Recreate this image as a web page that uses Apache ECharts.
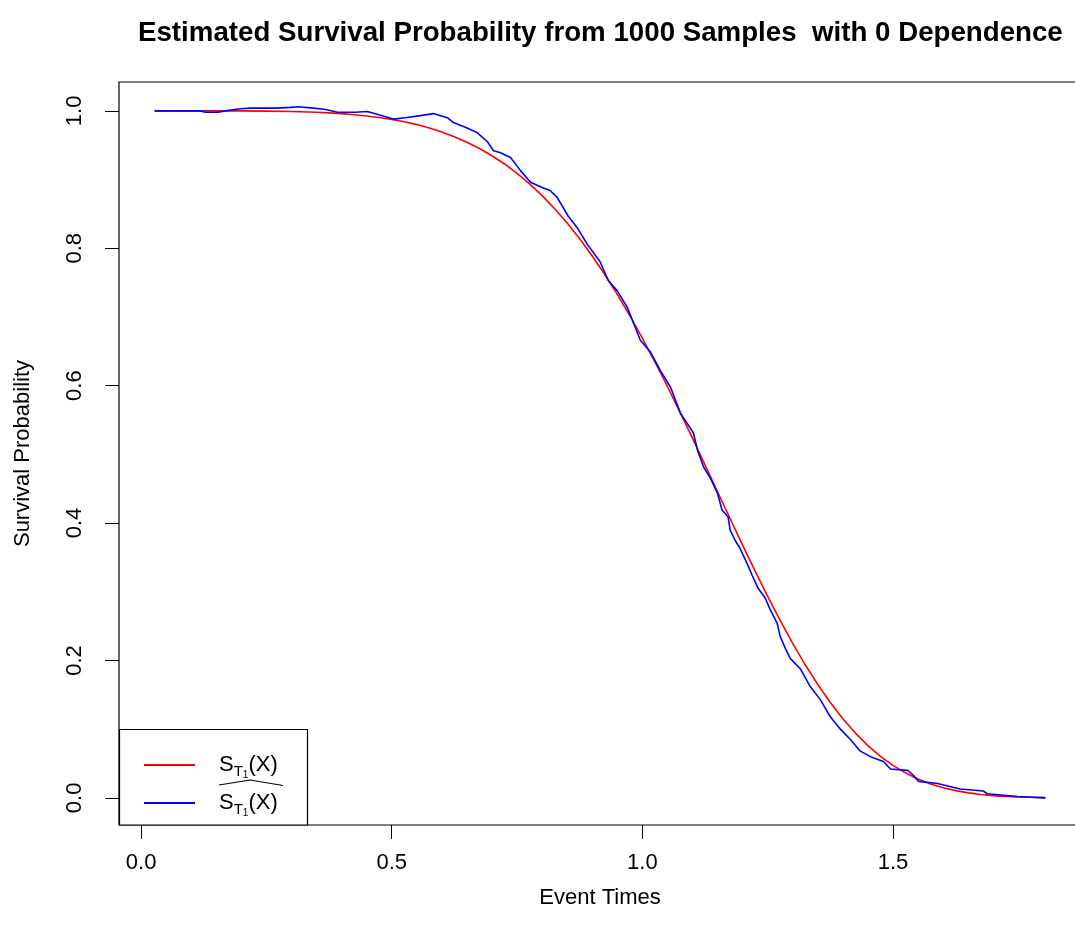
<!DOCTYPE html>
<html><head><meta charset="utf-8">
<script src="https://cdn.jsdelivr.net/npm/echarts@6/dist/echarts.min.js"></script>
<style>html,body{margin:0;padding:0;background:#fff;overflow:hidden}#c{width:1075px;height:935px}</style>
</head><body><div id="c"></div>
<script>
// True survival curve S_T1(X) (red)
const trueTimes = [0.027,0.1,0.15,0.2,0.25,0.3,0.35,0.375,0.4,0.425,0.45,0.475,0.5,0.525,0.55,0.575,0.6,0.625,0.65,0.675,0.7,0.725,0.75,0.775,0.8,0.825,0.85,0.875,0.9,0.925,0.95,0.975,1.0,1.025,1.05,1.075,1.1,1.125,1.15,1.175,1.2,1.225,1.25,1.275,1.3,1.325,1.35,1.375,1.4,1.425,1.45,1.475,1.5,1.525,1.55,1.575,1.6,1.625,1.65,1.675,1.7,1.725,1.75,1.775,1.804];
const trueSurv  = [1.0000,1.0000,1.0000,0.9999,0.9996,0.9990,0.9979,0.9970,0.9959,0.9944,0.9926,0.9903,0.9875,0.9841,0.9800,0.9751,0.9692,0.9624,0.9544,0.9452,0.9347,0.9227,0.9090,0.8937,0.8766,0.8576,0.8367,0.8137,0.7888,0.7618,0.7328,0.7018,0.6691,0.6347,0.5988,0.5616,0.5235,0.4847,0.4456,0.4066,0.3679,0.3300,0.2933,0.2582,0.2249,0.1937,0.1650,0.1387,0.1152,0.0943,0.0761,0.0605,0.0473,0.0363,0.0275,0.0203,0.0148,0.0105,0.0073,0.0050,0.0033,0.0022,0.0014,0.0008,0.0004];
// Estimated survival curve (blue)
const estTimes = [0.027,0.118,0.128,0.154,0.168,0.198,0.218,0.268,0.298,0.314,0.344,0.368,0.392,0.427,0.451,0.471,0.503,0.527,0.557,0.583,0.611,0.623,0.647,0.671,0.691,0.703,0.717,0.737,0.757,0.777,0.801,0.816,0.830,0.852,0.870,0.890,0.916,0.932,0.950,0.970,0.996,1.016,1.036,1.056,1.076,1.102,1.110,1.122,1.136,1.150,1.159,1.171,1.175,1.185,1.195,1.209,1.219,1.231,1.245,1.255,1.269,1.275,1.285,1.295,1.315,1.335,1.355,1.375,1.395,1.415,1.435,1.455,1.481,1.495,1.529,1.539,1.551,1.589,1.634,1.680,1.688,1.748,1.804];
const estSurv  = [1.000,1.000,0.998,0.998,1.000,1.003,1.004,1.004,1.005,1.006,1.004,1.002,0.998,0.998,0.999,0.995,0.988,0.990,0.993,0.996,0.990,0.983,0.976,0.968,0.955,0.942,0.939,0.932,0.913,0.896,0.888,0.884,0.874,0.847,0.830,0.806,0.780,0.753,0.738,0.714,0.666,0.649,0.622,0.598,0.560,0.531,0.506,0.482,0.465,0.443,0.419,0.409,0.390,0.375,0.363,0.341,0.324,0.305,0.291,0.274,0.254,0.235,0.218,0.203,0.188,0.162,0.143,0.118,0.100,0.085,0.068,0.060,0.053,0.042,0.040,0.034,0.024,0.021,0.013,0.010,0.006,0.002,0.000];
const xTicks = [0, 0.5, 1.0, 1.5];
const yTicks = [0, 0.2, 0.4, 0.6, 0.8, 1.0];
const titleText = 'Estimated Survival Probability from 1000 Samples  with 0 Dependence';
const xName = 'Event Times';
const yName = 'Survival Probability';
const seriesNames = ['true', 'est'];

const FONT = '"Liberation Sans", Arial, Helvetica, sans-serif';
const chart = echarts.init(document.getElementById('c'));
const legendRich = {
  s0: {fontSize: 22, fontFamily: FONT, color: '#000', lineHeight: 26, padding: [0,0,0,19]},
  s:  {fontSize: 22, fontFamily: FONT, color: '#000', lineHeight: 26},
  t:  {fontSize: 15, fontFamily: FONT, color: '#000', lineHeight: 26, padding: [14,0,0,0]},
  o:  {fontSize: 10, fontFamily: FONT, color: '#000', lineHeight: 26, padding: [20,0,0,0]}
};
chart.setOption({
  animation: false,
  backgroundColor: '#fff',
  title: {
    text: titleText, left: 138, top: 17, padding: 0,
    textStyle: {fontSize: 27.7, fontWeight: 'bold', fontFamily: FONT, color: '#000', lineHeight: 32}
  },
  grid: {left: 119, top: 82, right: -6, bottom: 110, show: true, borderColor: '#000', borderWidth: 1.2, containLabel: false, outerBoundsMode: 'none'},
  xAxis: {
    type: 'value', min: -0.0441, max: 1.8751,
    name: xName, nameLocation: 'middle', nameGap: 60,
    nameTextStyle: {fontSize: 22, fontFamily: FONT, color: '#000', lineHeight: 26},
    axisLine: {show: false, onZero: false},
    splitLine: {show: false},
    axisTick: {show: true, inside: false, length: 14, customValues: xTicks, lineStyle: {color: '#000', width: 1}},
    axisLabel: {customValues: xTicks, margin: 25, fontSize: 22, fontFamily: FONT, color: '#000', lineHeight: 26,
      formatter: v => v.toFixed(1)}
  },
  yAxis: {
    type: 'value', min: -0.0395, max: 1.042,
    name: yName, nameLocation: 'middle', nameGap: 83, nameRotate: 90,
    nameTextStyle: {fontSize: 22, fontFamily: FONT, color: '#000', lineHeight: 26},
    axisLine: {show: false, onZero: false},
    splitLine: {show: false},
    axisTick: {show: true, inside: false, length: 14, customValues: yTicks, lineStyle: {color: '#000', width: 1}},
    axisLabel: {customValues: yTicks, margin: 31, rotate: 90, fontSize: 22, fontFamily: FONT, color: '#000', lineHeight: 26,
      formatter: v => v.toFixed(1)}
  },
  legend: {
    left: 119, top: 729, orient: 'vertical', padding: [21, 0, 0, 25],
    itemWidth: 51, itemHeight: 2, itemGap: 8, z: 6, selectedMode: false,
    icon: 'rect',
    data: seriesNames,
    formatter: () => '{s0|S}{t|T}{o|1}{s|(X)}',
    textStyle: {rich: legendRich}
  },
  graphic: [
    {type: 'rect', z: 3, shape: {x: 119.5, y: 729.5, width: 188, height: 95.5}, style: {fill: '#fff', stroke: '#000', lineWidth: 1.2}},
    {type: 'polyline', z: 7, shape: {points: [[219, 785], [250, 780], [283, 785.5]]}, style: {fill: null, stroke: '#000', lineWidth: 1.2}}
  ],
  series: [
    {name: seriesNames[0], type: 'line', data: trueTimes.map((t, i) => [t, trueSurv[i]]),
     showSymbol: false, symbol: 'none', smooth: false,
     lineStyle: {color: '#FF0000', width: 1.6}, itemStyle: {color: '#FF0000'}},
    {name: seriesNames[1], type: 'line', data: estTimes.map((t, i) => [t, estSurv[i]]),
     showSymbol: false, symbol: 'none',
     lineStyle: {color: '#0000FF', width: 1.6}, itemStyle: {color: '#0000FF'}}
  ]
});
</script>
</body></html>
